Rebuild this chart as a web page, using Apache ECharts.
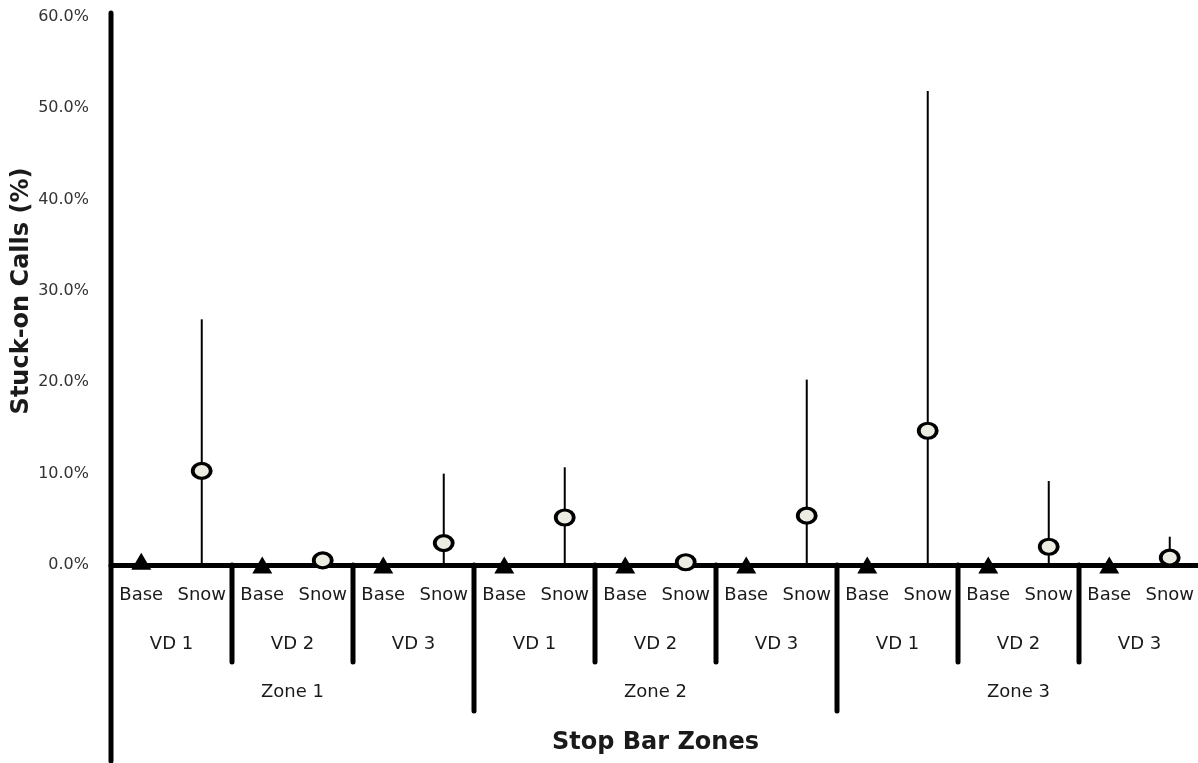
<!DOCTYPE html>
<html>
<head>
<meta charset="utf-8">
<script src="https://cdn.jsdelivr.net/npm/echarts@6/dist/echarts.min.js"></script>
<style>
html,body{margin:0;padding:0;background:#fff;}
#chart{width:1198px;height:763px;}
</style>
</head>
<body>
<div id="chart"></div>
<script>
const categories = ['Base','Snow','Base','Snow','Base','Snow','Base','Snow','Base','Snow','Base','Snow','Base','Snow','Base','Snow','Base','Snow'];
const vdLabels = ['VD 1','VD 2','VD 3','VD 1','VD 2','VD 3','VD 1','VD 2','VD 3'];
const zoneLabels = ['Zone 1','Zone 2','Zone 3'];
const yTicks = [0,10,20,30,40,50,60];
const baseValues = [0.4,0,0,0,0,0,0,0,0];
const snowValues = [10.3,0.5,2.4,5.2,0.3,5.4,14.7,2.0,0.8];
const snowHigh = [26.9,null,10.0,10.7,null,20.3,51.9,9.2,3.1];

const baseData = baseValues.map((v,i)=>[i*2, v]);
const snowData = snowValues.map((v,i)=>[i*2+1, v]);
const errData = snowHigh.map((h,i)=>h==null?null:[i*2+1, 0, h]).filter(d=>d);
const dividerData = categories.map((c,i)=>i).filter(i=>i%2===0).map(i=>[i, 0]);

const FONT = 'DejaVu Sans';
const chart = echarts.init(document.getElementById('chart'));
chart.setOption({
  animation:false,
  backgroundColor:'#ffffff',
  grid:{left:111,right:-2,top:17,bottom:198,containLabel:false,outerBoundsMode:'none'},
  xAxis:[
    {type:'category',data:categories,position:'bottom',
     axisLine:{show:true,lineStyle:{color:'#000',width:5}},
     axisTick:{show:false},splitLine:{show:false},
     axisLabel:{interval:0,margin:21,fontFamily:FONT,fontSize:18,color:'#1a1a1a'}},
    {type:'category',data:vdLabels,position:'bottom',
     axisLine:{show:false},axisTick:{show:false},splitLine:{show:false},
     axisLabel:{interval:0,margin:70,fontFamily:FONT,fontSize:18,color:'#1a1a1a'}},
    {type:'category',data:zoneLabels,position:'bottom',
     axisLine:{show:false},axisTick:{show:false},splitLine:{show:false},
     axisLabel:{interval:0,margin:118,fontFamily:FONT,fontSize:18,color:'#1a1a1a'},
     name:'Stop Bar Zones',nameLocation:'middle',nameGap:166,nameMoveOverlap:false,
     nameTextStyle:{fontFamily:FONT,fontWeight:'bold',fontSize:24,color:'#1a1a1a'}}
  ],
  yAxis:{type:'value',min:yTicks[0],max:yTicks[yTicks.length-1],interval:10,
    axisLine:{show:false},axisTick:{show:false},splitLine:{show:false},
    axisLabel:{margin:22,fontFamily:FONT,fontSize:16,color:'#333',formatter:v=>v.toFixed(1)+'%'},
    name:'Stuck-on Calls (%)',nameLocation:'middle',nameGap:77,nameMoveOverlap:false,
    nameTextStyle:{fontFamily:FONT,fontWeight:'bold',fontSize:24,color:'#1a1a1a'}},
  series:[
    {type:'custom',xAxisIndex:0,clip:false,z:1,silent:true,
     data:dividerData,
     renderItem:function(params,api){
       const k=api.value(0);
       const c=api.coord([k,0]);
       const bw=api.size([1,0])[0];
       const x=c[0]-bw/2;
       let y1=c[1], y2;
       if(k===0){ y1=api.coord([k,yTicks[yTicks.length-1]])[1]-4; y2=c[1]+196; }
       else if(k%6===0){ y2=c[1]+146; }
       else { y2=c[1]+97; }
       return {type:'line',shape:{x1:x,y1:y1,x2:x,y2:y2},
         style:{stroke:'#000',lineWidth:5,lineCap:'round'}};
     }},
    {type:'custom',xAxisIndex:0,clip:false,z:2,silent:true,
     data:errData,
     renderItem:function(params,api){
       const lo=api.coord([api.value(0),api.value(1)]);
       const hi=api.coord([api.value(0),api.value(2)]);
       return {type:'line',shape:{x1:lo[0],y1:lo[1],x2:hi[0],y2:hi[1]},
         style:{stroke:'#000',lineWidth:2}};
     }},
    {type:'scatter',xAxisIndex:0,z:3,data:baseData,symbol:'triangle',symbolSize:[20,17],
     itemStyle:{color:'#000',opacity:1}},
    {type:'scatter',xAxisIndex:0,z:4,data:snowData,symbol:'circle',symbolSize:[18,15],
     itemStyle:{color:'#EDECE2',borderColor:'#000',borderWidth:3.5,opacity:1}}
  ]
});
</script>
</body>
</html>
